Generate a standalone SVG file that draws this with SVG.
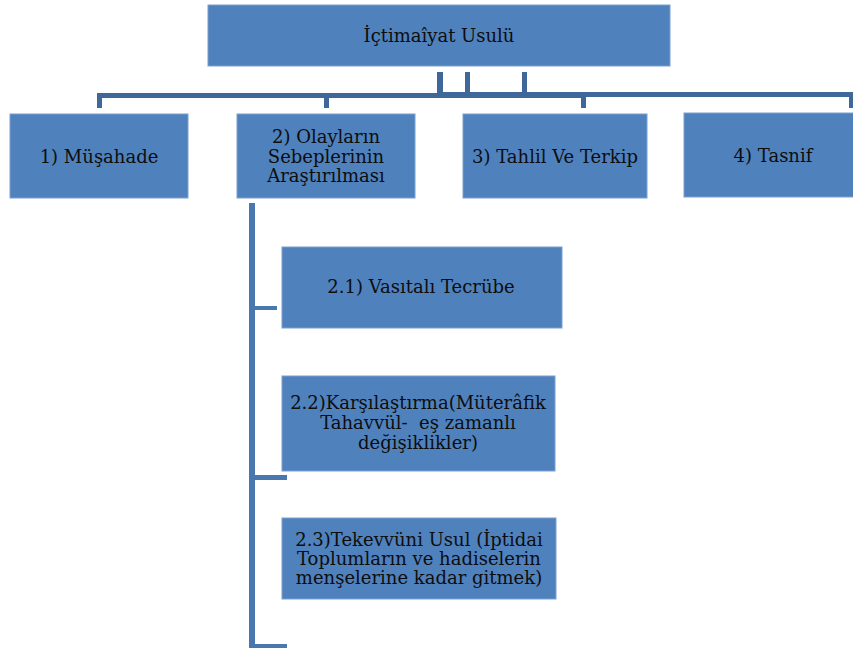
<svg xmlns="http://www.w3.org/2000/svg" width="853" height="649" viewBox="0 0 853 649">
<style>
.box{fill:#4F81BD;stroke:#7AA0CF;stroke-width:1}
.t{font-family:"DejaVu Serif","Liberation Serif",serif;font-size:18px;fill:#0d0d0d;text-anchor:middle}
.c1{fill:#3F6799}
.c2{fill:#4A77AE}
</style>
<rect width="853" height="649" fill="#fff"/>
<g id="connectors">
<rect class="c1" x="437" y="72" width="6" height="22"/>
<rect class="c1" x="465" y="72" width="5" height="22"/>
<rect class="c1" x="522" y="72" width="5" height="22"/>
<rect class="c1" x="97" y="93" width="489" height="5"/>
<rect class="c1" x="437" y="92" width="416" height="5"/>
<rect class="c1" x="97" y="93" width="5" height="15"/>
<rect class="c1" x="324" y="93" width="5" height="15"/>
<rect class="c1" x="581" y="93" width="5" height="15"/>
<rect class="c1" x="849" y="92" width="4" height="16"/>
<rect class="c2" x="249" y="203" width="6" height="445"/>
<rect class="c2" x="255" y="306" width="22" height="4"/>
<rect class="c2" x="255" y="475" width="32" height="5"/>
<rect class="c2" x="255" y="644" width="32" height="4"/>
</g>
<g id="root">
<rect class="box" x="208" y="5" width="462" height="61"/>
<text class="t" x="439" y="42">İçtimaîyat Usulü</text>
</g>
<g id="n1">
<rect class="box" x="10" y="114" width="178" height="84"/>
<text class="t" x="99" y="163">1) Müşahade</text>
</g>
<g id="n2">
<rect class="box" x="237" y="114" width="178" height="84"/>
<text class="t" x="326" y="143">2) Olayların</text>
<text class="t" x="326" y="163">Sebeplerinin</text>
<text class="t" x="326" y="182">Araştırılması</text>
</g>
<g id="n3">
<rect class="box" x="463" y="114" width="184" height="84"/>
<text class="t" x="555" y="163">3) Tahlil Ve Terkip</text>
</g>
<g id="n4">
<rect class="box" x="684" y="113" width="180" height="84"/>
<text class="t" x="773" y="162">4) Tasnif</text>
</g>
<g id="n21">
<rect class="box" x="282" y="247" width="280" height="81"/>
<text class="t" x="421" y="293">2.1) Vasıtalı Tecrübe</text>
</g>
<g id="n22">
<rect class="box" x="282" y="376" width="273" height="95"/>
<text class="t" x="418" y="409">2.2)Karşılaştırma(Müterâfik</text>
<text class="t" x="418" y="429" xml:space="preserve">Tahavvül-  eş zamanlı</text>
<text class="t" x="418" y="449">değişiklikler)</text>
</g>
<g id="n23">
<rect class="box" x="282" y="518" width="274" height="81"/>
<text class="t" x="419" y="546">2.3)Tekevvüni Usul (İptidai</text>
<text class="t" x="419" y="565">Toplumların ve hadiselerin</text>
<text class="t" x="419" y="584">menşelerine kadar gitmek)</text>
</g>
</svg>
